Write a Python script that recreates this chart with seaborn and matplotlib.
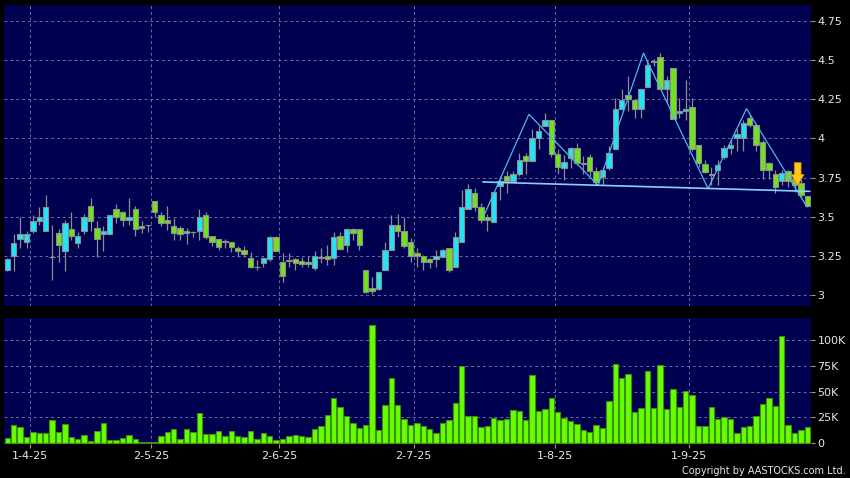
import numpy as np
import pandas as pd
import matplotlib
matplotlib.use("Agg")
import matplotlib.pyplot as plt
import seaborn as sns

# ---------------- data ----------------
holidays = ["2025-04-04", "2025-04-18", "2025-04-21", "2025-05-01", "2025-05-05", "2025-07-01"]
dates = pd.bdate_range("2025-03-26", "2025-09-25")
dates = dates[~dates.isin(pd.to_datetime(holidays))]

opens = [3.16, 3.25, 3.36, 3.34, 3.41, 3.47, 3.41, 3.245, 3.395, 3.28,
         3.42, 3.33, 3.41, 3.57, 3.427, 3.39, 3.39, 3.55, 3.528, 3.48,
         3.55, 3.44, 3.445, 3.60, 3.508, 3.48, 3.44, 3.427, 3.395, 3.405,
         3.406, 3.508, 3.378, 3.357, 3.345, 3.338, 3.30, 3.288, 3.235, 3.18,
         3.207, 3.233, 3.37, 3.214, 3.22, 3.229, 3.216, 3.21, 3.175, 3.24,
         3.25, 3.235, 3.378, 3.32, 3.42, 3.42, 3.16, 3.045, 3.038, 3.16,
         3.288, 3.446, 3.41, 3.338, 3.267, 3.252, 3.23, 3.229, 3.245, 3.30,
         3.177, 3.34, 3.551, 3.652, 3.562, 3.496, 3.466, 3.694, 3.763, 3.726,
         3.77, 3.887, 3.855, 4.0, 4.08, 4.115, 3.90, 3.81, 3.872, 3.94,
         3.84, 3.883, 3.795, 3.754, 3.812, 3.934, 4.19, 4.276, 4.244, 4.19,
         4.33, 4.49, 4.517, 4.314, 4.447, 4.16, 4.173, 4.20, 3.957, 3.838,
         3.77, 3.797, 3.883, 3.94, 4.0, 4.0, 4.13, 4.083, 3.976, 3.84,
         3.77, 3.726, 3.79, 3.74, 3.716, 3.63]
highs = [3.235, 3.39, 3.50, 3.41, 3.51, 3.564, 3.64, 3.449, 3.42, 3.48,
         3.53, 3.40, 3.52, 3.62, 3.47, 3.44, 3.51, 3.583, 3.534, 3.62,
         3.57, 3.47, 3.45, 3.60, 3.53, 3.566, 3.49, 3.44, 3.427, 3.41,
         3.55, 3.53, 3.38, 3.36, 3.357, 3.34, 3.314, 3.314, 3.278, 3.224,
         3.24, 3.376, 3.376, 3.267, 3.267, 3.235, 3.24, 3.25, 3.28, 3.30,
         3.32, 3.40, 3.40, 3.42, 3.427, 3.42, 3.16, 3.117, 3.145, 3.34,
         3.51, 3.52, 3.50, 3.363, 3.30, 3.255, 3.235, 3.288, 3.295, 3.30,
         3.40, 3.673, 3.71, 3.684, 3.59, 3.52, 3.66, 3.758, 3.79, 3.79,
         3.91, 3.91, 4.06, 4.08, 4.165, 4.115, 3.93, 3.897, 3.946, 3.97,
         3.887, 3.90, 3.82, 3.82, 3.95, 4.26, 4.314, 4.40, 4.244, 4.314,
         4.50, 4.51, 4.545, 4.40, 4.447, 4.26, 4.37, 4.26, 3.957, 3.86,
         3.82, 3.86, 3.96, 3.99, 4.06, 4.12, 4.15, 4.09, 3.99, 3.85,
         3.80, 3.80, 3.80, 3.76, 3.74, 3.63]
lows = [3.155, 3.156, 3.30, 3.30, 3.395, 3.449, 3.41, 3.096, 3.21, 3.156,
        3.35, 3.30, 3.39, 3.406, 3.245, 3.284, 3.39, 3.46, 3.44, 3.449,
        3.374, 3.395, 3.40, 3.50, 3.44, 3.417, 3.35, 3.35, 3.327, 3.37,
        3.35, 3.36, 3.31, 3.29, 3.30, 3.276, 3.245, 3.24, 3.17, 3.16,
        3.18, 3.22, 3.28, 3.085, 3.18, 3.16, 3.18, 3.18, 3.16, 3.207,
        3.19, 3.19, 3.29, 3.276, 3.35, 3.29, 3.015, 3.006, 3.03, 3.16,
        3.288, 3.37, 3.30, 3.214, 3.18, 3.16, 3.17, 3.18, 3.245, 3.145,
        3.177, 3.34, 3.55, 3.534, 3.46, 3.406, 3.466, 3.61, 3.65, 3.72,
        3.76, 3.77, 3.855, 3.93, 4.077, 3.88, 3.77, 3.737, 3.81, 3.833,
        3.77, 3.76, 3.70, 3.70, 3.80, 3.934, 4.18, 4.175, 4.13, 4.13,
        4.33, 4.46, 4.314, 4.23, 4.122, 4.13, 4.12, 3.92, 3.82, 3.78,
        3.705, 3.70, 3.87, 3.90, 3.92, 3.92, 4.07, 3.92, 3.74, 3.74,
        3.65, 3.70, 3.69, 3.66, 3.62, 3.56]
closes = [3.23, 3.33, 3.39, 3.39, 3.47, 3.50, 3.56, 3.24, 3.32, 3.46,
          3.38, 3.376, 3.50, 3.47, 3.357, 3.41, 3.51, 3.50, 3.48, 3.50,
          3.42, 3.43, 3.445, 3.53, 3.46, 3.46, 3.395, 3.39, 3.41, 3.40,
          3.498, 3.37, 3.338, 3.306, 3.34, 3.306, 3.28, 3.265, 3.18, 3.18,
          3.235, 3.37, 3.284, 3.124, 3.22, 3.207, 3.197, 3.195, 3.25, 3.235,
          3.229, 3.37, 3.297, 3.42, 3.395, 3.318, 3.02, 3.026, 3.145, 3.288,
          3.446, 3.406, 3.314, 3.25, 3.25, 3.214, 3.21, 3.25, 3.288, 3.16,
          3.37, 3.562, 3.678, 3.562, 3.48, 3.48, 3.658, 3.73, 3.726, 3.77,
          3.865, 3.855, 4.0, 4.047, 4.115, 3.90, 3.818, 3.85, 3.936, 3.84,
          3.835, 3.79, 3.72, 3.80, 3.908, 4.19, 4.244, 4.254, 4.19, 4.314,
          4.468, 4.49, 4.314, 4.374, 4.122, 4.175, 4.19, 3.93, 3.844, 3.784,
          3.765, 3.83, 3.94, 3.96, 4.03, 4.10, 4.083, 3.955, 3.80, 3.797,
          3.69, 3.78, 3.726, 3.70, 3.64, 3.566]
volumes_k = [4.8, 17.7, 16.1, 5.8, 11, 9.7, 10.3, 23, 11, 18.7,
             6.5, 4.5, 8.4, 2.3, 12, 19.7, 3.5, 3.5, 5.2, 8.4,
             3.9, 1.3, 1.6, 1.0, 6.8, 11, 14.2, 4.2, 14.2, 11,
             29.7, 8.7, 8.7, 12.3, 7.4, 12, 7.4, 6.5, 12.3, 4.2,
             10.3, 7.1, 3.2, 4.2, 7.1, 7.7, 7.4, 6.5, 13.9, 16.8,
             27.1, 43.5, 35.5, 26.8, 19.4, 15.2, 17.7, 115, 12.9, 37.1,
             62.9, 37.1, 23.9, 18.1, 19.7,
             17, 13.7, 9.8, 19.5, 22.8, 38.8, 74.6, 26, 26, 16,
             17, 24.4, 22.5, 23.1, 32.2, 31.3, 22.8, 66.1, 30.9, 33.6,
             44, 30, 24.8, 21.8, 18.2, 13, 11.4, 17.3, 15, 41.4,
             77.2, 63.2, 66.8, 30.6, 34.2, 69.7, 34.5, 75.6, 33.2, 52.8,
             35.2, 50.2, 46.9, 16.3, 17, 35.2, 23.8, 25.4, 23.8, 9.8,
             15.6, 17, 26.4, 38.1, 44.3, 36.2, 103.9, 17.6, 9.8, 12.4, 15.3]

# head & shoulders annotation (bar position, price)
pattern_pos = [74.4, 81.5, 92.3, 99.4, 109.5, 115.5, 124.9]
pattern_price = [3.50, 4.154, 3.70, 4.545, 3.68, 4.19, 3.566]
neck_pos = [74.3, 125.4]
neck_price = [3.722, 3.662]
arrow_pos = 123.5
arrow_from, arrow_to = 3.845, 3.70

price_ticks = [3, 3.25, 3.5, 3.75, 4, 4.25, 4.5, 4.75]
price_labels = ["3", "3.25", "3.5", "3.75", "4", "4.25", "4.5", "4.75"]
vol_ticks = [0, 25, 50, 75, 100]
vol_labels = ["0", "25K", "50K", "75K", "100K"]

# ---------------- styling ----------------
BG = "#000000"
FACE = "#000050"
GRID = "#6c6ca0"
TXT = "#e6e6e6"
UP = "#22e4f4"
DOWN = "#72e21e"
EDGE = "#8c8c8c"
sns.set_theme(style="dark", rc={
    "figure.facecolor": BG, "axes.facecolor": FACE, "savefig.facecolor": BG,
    "axes.edgecolor": FACE, "grid.color": GRID, "text.color": TXT,
    "xtick.color": TXT, "ytick.color": TXT,
})
plt.rcParams["font.family"] = ["DejaVu Sans"]

df = pd.DataFrame({"date": dates, "open": opens, "high": highs, "low": lows,
                   "close": closes, "vol": volumes_k})
df["pos"] = np.arange(len(df))

month_first = df.index[df["date"].dt.month != df["date"].dt.month.shift(1)][1:]
tick_pos = [p - 0.5 for p in month_first]
tick_lbl = [f"{d.day}-{d.month}-{d.strftime('%y')}" for d in df.loc[month_first, "date"]]

W, H = 850, 478
fig = plt.figure(figsize=(W / 100, H / 100), dpi=100)
ax = fig.add_axes([4 / W, 1 - 306 / H, 806.5 / W, 301 / H])
axv = fig.add_axes([4 / W, 1 - 444 / H, 806.5 / W, 126 / H])

# candles
up = df["close"] >= df["open"]
body_lo = np.minimum(df["open"], df["close"])
body_h = np.maximum((df["close"] - df["open"]).abs(), 0.002)
ax.vlines(df["pos"], df["low"], df["high"], color=EDGE, lw=0.9, zorder=2)
ax.bar(df["pos"], body_h, bottom=body_lo, width=0.84,
       color=np.where(up, UP, DOWN), edgecolor=EDGE, linewidth=0.8, zorder=3)

# pattern lines
ax.plot(pattern_pos, pattern_price, color="#4fb6ee", lw=0.9, zorder=4)
ax.plot(neck_pos, neck_price, color="#86d2fa", lw=1.2, zorder=4)
ax.arrow(arrow_pos, arrow_from, 0, arrow_to - arrow_from, width=1.05, head_width=2.0,
         head_length=0.07, length_includes_head=True, fc="#ffc81a", ec="#d88a00",
         lw=0.6, zorder=6)

# volume
sns.barplot(data=df, x="pos", y="vol", native_scale=True, color="#66ff00",
            edgecolor="#3c8f10", linewidth=0.8, saturation=1, width=0.84,
            errorbar=None, ax=axv, zorder=3)
axv.set_xlabel("")
axv.set_ylabel("")

for a in (ax, axv):
    a.set_xlim(-0.52, 125.5)
    a.yaxis.tick_right()
    for s in a.spines.values():
        s.set_visible(False)
    a.set_xticks(tick_pos)
    a.grid(True, which="major", color=GRID, linestyle=(0, (3, 3)), linewidth=0.7)
    a.set_axisbelow(True)
    a.tick_params(axis="y", which="both", length=3, width=0.8, color="#9a9a9a",
                  labelcolor=TXT, labelsize=8, pad=2, right=True, left=False)

ax.set_ylim(2.93, 4.852)
ax.set_yticks(price_ticks)
ax.set_yticklabels(price_labels)
ax.tick_params(axis="x", length=0, labelbottom=False)

axv.set_ylim(-0.7, 121.4)
axv.set_yticks(vol_ticks)
axv.set_yticklabels(vol_labels)
axv.set_xticklabels(tick_lbl)
axv.tick_params(axis="x", length=3, width=0.8, color="#9a9a9a", labelcolor=TXT,
                labelsize=8, pad=2, bottom=True)

fig.text(846 / W, 2 / H, "Copyright by AASTOCKS.com Ltd.", ha="right", va="bottom",
         color=TXT, fontsize=7.0)

fig.savefig("out.png", dpi=100)
